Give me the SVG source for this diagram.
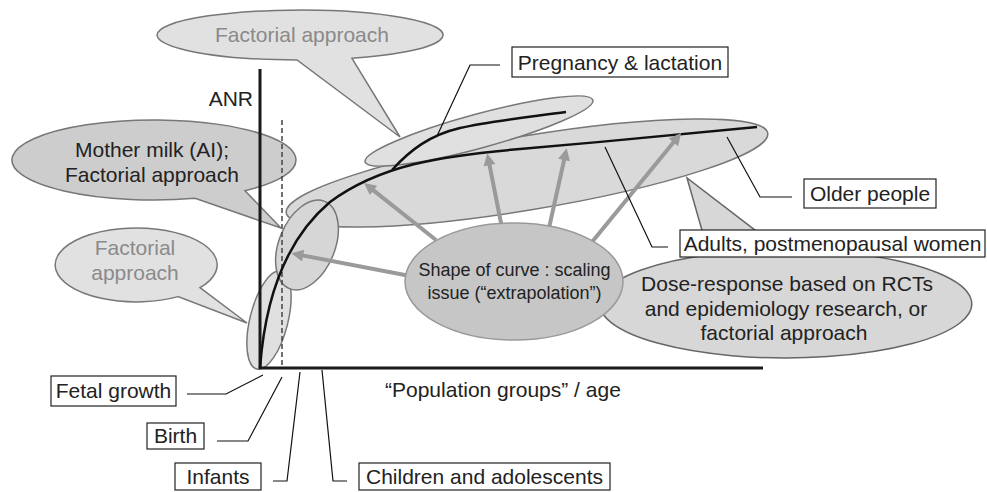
<svg xmlns="http://www.w3.org/2000/svg" width="987" height="492" viewBox="0 0 987 492">
<style>
text{font-family:"Liberation Sans",Arial,sans-serif;font-size:21px;fill:#222}
.g{fill:#8a8a8a}
.lbl{text-anchor:middle}
.box{fill:#fff;stroke:#222;stroke-width:1.2}
.lead{fill:none;stroke:#111;stroke-width:1.2}
.ell{stroke:#777;stroke-width:1.5}
.arr{stroke:#9a9a9a;stroke-width:4;fill:none;marker-end:url(#ah)}
</style>
<defs>
<marker id="ah" viewBox="0 0 10 10" refX="2" refY="5" markerWidth="14" markerHeight="12" markerUnits="userSpaceOnUse" orient="auto">
<path d="M0,0 L10,5 L0,10 z" fill="#9a9a9a"/>
</marker>
</defs>
<rect width="987" height="492" fill="#fff"/>

<g id="callout-top-factorial">
<path class="ell" fill="#e1e1e1" d="M352,58.3 L400,137 L297,60 A143,25 0 1 1 352,58.3 Z"/>
<text class="g lbl" x="302" y="42">Factorial approach</text>
</g>
<g id="callout-mother-milk">
<path class="ell" fill="#cdcdcd" d="M245,190.7 L281,228 L195,198.3 A142,40 0 1 1 245,190.7 Z"/>
<text class="lbl" x="152" y="157">Mother milk (AI);</text>
<text class="lbl" x="152" y="182">Factorial approach</text>
</g>
<g id="callout-left-factorial">
<path class="ell" fill="#e1e1e1" d="M200,287.7 L247,323 L178,296.6 A81,37 0 1 1 200,287.7 Z"/>
<text class="g lbl" x="135" y="255">Factorial</text>
<text class="g lbl" x="135" y="280">approach</text>
</g>

<g id="ellipse-adults">
<ellipse class="ell" fill="#d9d9d9" cx="527" cy="173" rx="244" ry="37" transform="rotate(-9.4 527 173)"/>
</g>
<g id="ellipse-pregnancy">
<ellipse class="ell" fill="#e0e0e0" cx="479" cy="131" rx="118" ry="17" transform="rotate(-15.2 479 131)"/>
</g>
<g id="ellipse-fetal">
<ellipse class="ell" fill="#e0e0e0" cx="269" cy="320" rx="19" ry="50.5" transform="rotate(14 269 320)"/>
</g>
<g id="ellipse-infants">
<ellipse class="ell" fill="#d6d6d6" cx="307" cy="245" rx="28" ry="47" transform="rotate(22 307 245)"/>
</g>

<g id="axes">
<line x1="282" y1="120" x2="282" y2="368" stroke="#444" stroke-width="1.5" stroke-dasharray="5,3"/>
<line x1="260" y1="69" x2="260" y2="369" stroke="#1a1a1a" stroke-width="3"/>
<line x1="259" y1="368" x2="763" y2="368" stroke="#1a1a1a" stroke-width="3"/>
<text x="253" y="106" text-anchor="end">ANR</text>
<text x="385" y="397">“Population groups” / age</text>
</g>

<g id="curves">
<path d="M260,368 C265,300 285,240 330,202 C380,165 440,156 520,149 C600,142 700,133 757,127" fill="none" stroke="#111" stroke-width="2.5"/>
<path d="M392,170 C410,150 430,135 460,128 C490,121 530,117 566,112" fill="none" stroke="#111" stroke-width="2.5"/>
</g>

<g id="callout-dose-response">
<path stroke="#666" stroke-width="1.5" fill="#d7d7d7" d="M709,254.8 L687,178 L781,250 A186,54 0 1 1 709,254.8 Z"/>
<text class="lbl" x="787" y="291">Dose-response based on RCTs</text>
<text class="lbl" x="786" y="316">and epidemiology research, or</text>
<text class="lbl" x="784" y="340">factorial approach</text>
</g>

<g id="connectors">
<line class="arr" x1="436" y1="240" x2="371.6" y2="188.9"/>
<line class="arr" x1="410" y1="276" x2="300.8" y2="255.1"/>
<line class="arr" x1="502" y1="228" x2="489.1" y2="162.8"/>
<line class="arr" x1="549" y1="228" x2="564.6" y2="157.7"/>
<line class="arr" x1="592" y1="242" x2="675" y2="140.5"/>
<polyline class="lead" points="500,65 470,65 437,136"/>
<polyline class="lead" points="792,197 760,197 727,137"/>
<polyline class="lead" points="605,147 652,247 668,247"/>
<polyline class="lead" points="187,394 226,394 263,375"/>
<polyline class="lead" points="217,441 248,441 282,377"/>
<polyline class="lead" points="273,481 287,481 300,372"/>
<polyline class="lead" points="347,481 333,481 322,370"/>
</g>

<g id="shape-of-curve">
<ellipse cx="514" cy="281.5" rx="109" ry="58.5" fill="#c6c6c6" stroke="#999" stroke-width="1.5"/>
<text class="lbl" x="514.5" y="276" style="font-size:18px">Shape of curve : scaling</text>
<text class="lbl" x="514.5" y="299" style="font-size:18px">issue (“extrapolation”)</text>
</g>

<g id="label-pregnancy">
<rect class="box" x="512" y="47" width="216" height="30"/>
<text class="lbl" x="620" y="70">Pregnancy &amp; lactation</text>
</g>
<g id="label-older">
<rect class="box" x="804" y="179" width="132" height="29"/>
<text class="lbl" x="870" y="201">Older people</text>
</g>
<g id="label-adults">
<rect class="box" x="680" y="230" width="305" height="27"/>
<text class="lbl" x="832.5" y="251">Adults, postmenopausal women</text>
</g>
<g id="label-fetal">
<rect class="box" x="51" y="376" width="125" height="30"/>
<text class="lbl" x="113.5" y="398">Fetal growth</text>
</g>
<g id="label-birth">
<rect class="box" x="147" y="423" width="57" height="26"/>
<text class="lbl" x="175.5" y="443">Birth</text>
</g>
<g id="label-infants">
<rect class="box" x="175" y="463" width="86" height="27"/>
<text class="lbl" x="218" y="484">Infants</text>
</g>
<g id="label-children">
<rect class="box" x="359" y="463" width="251" height="27"/>
<text class="lbl" x="484.5" y="484">Children and adolescents</text>
</g>
</svg>
